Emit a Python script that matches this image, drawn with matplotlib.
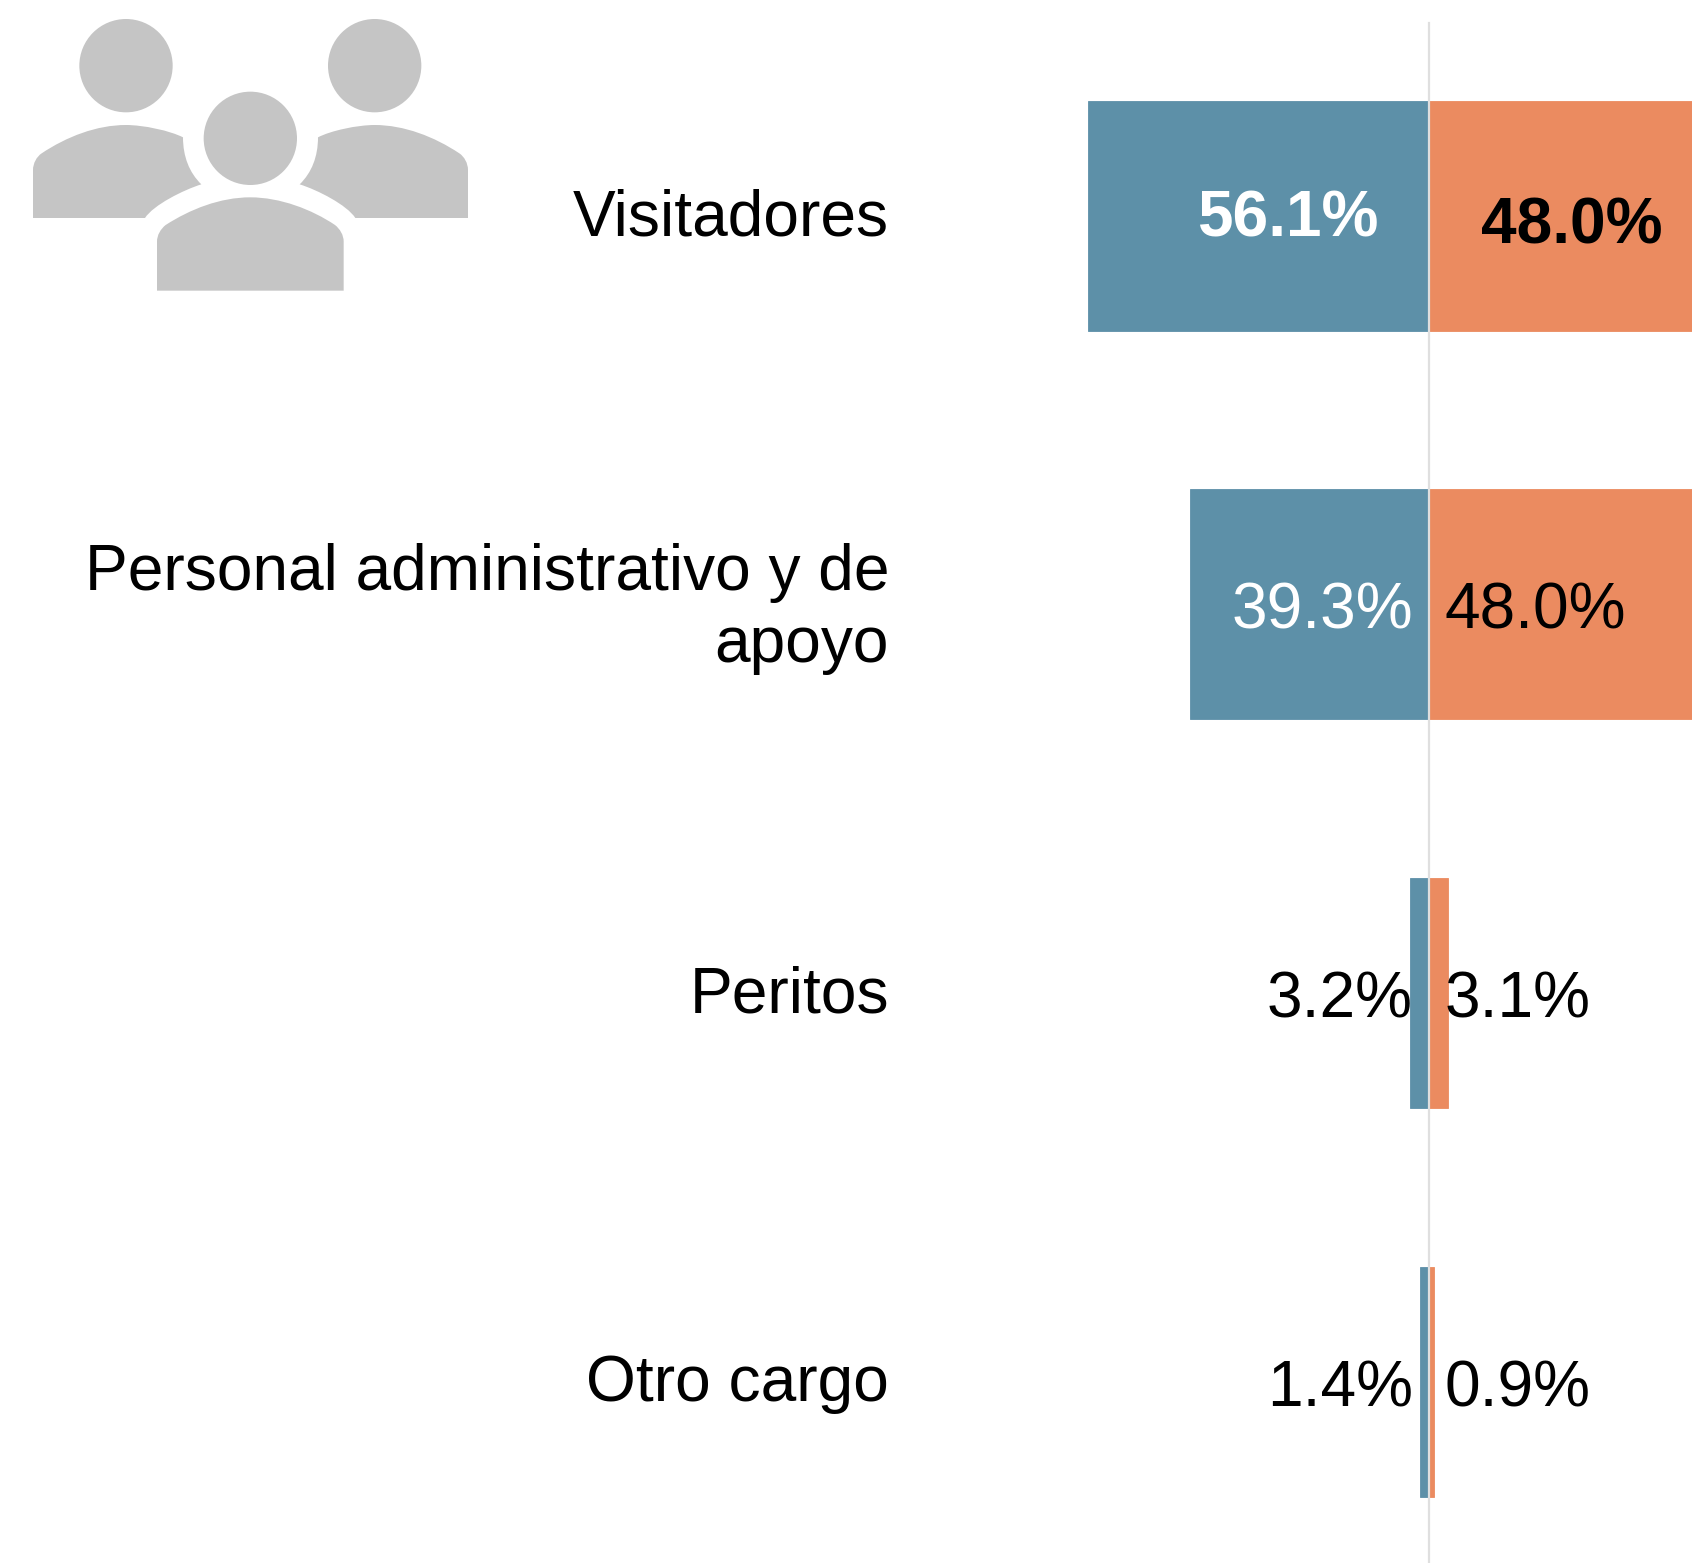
"""Diverging bars of staff by post, with the people icon top left."""

import matplotlib
matplotlib.use("Agg")
import matplotlib.pyplot as plt
from matplotlib.patches import Circle, PathPatch
from matplotlib.path import Path

plt.rcParams["font.family"] = ["Liberation Sans", "DejaVu Sans"]

CATEGORIES = ["Visitadores", "Personal administrativo y de\napoyo", "Peritos", "Otro cargo"]
LEFT_VALUES = [56.1, 39.3, 3.2, 1.4]
RIGHT_VALUES = [48.0, 48.0, 3.1, 0.9]

W, H = 1692, 1563
PX_PER_PCT = 6.08
ZERO_X = 1429
ROW_TOP = 215.5
ROW_STEP = 388.7
BAR_HEIGHT = 230 / ROW_STEP
FONT = 46.1

BLUE = "#5d90a8"
ORANGE = "#eb8b60"
ICON = "#c5c5c5"
LINE = "#dfdfdf"

M, L, C = Path.MOVETO, Path.LINETO, Path.CURVE4

ICON_HEADS = [(378, 197), (1124, 197), (751, 415)]
ICON_HEAD_R = 140
BODY_LEFT = [
    (M, (99, 654)), (L, (99, 510)),
    (C, (99, 490)), (C, (110, 470)), (C, (125, 460)),
    (C, (200, 410)), (C, (290, 375)), (C, (378, 375)),
    (C, (430, 375)), (C, (510, 392)), (C, (549, 412)),
    (C, (549, 470)), (C, (568, 518)), (C, (604, 553)),
    (C, (550, 570)), (C, (460, 615)), (C, (435, 654)),
    (L, (99, 654)),
]
BODY_RIGHT = [
    (M, (1404, 654)), (L, (1404, 510)),
    (C, (1404, 490)), (C, (1393, 470)), (C, (1378, 460)),
    (C, (1303, 410)), (C, (1212, 375)), (C, (1124, 375)),
    (C, (1072, 375)), (C, (992, 392)), (C, (954, 412)),
    (C, (954, 470)), (C, (935, 518)), (C, (899, 553)),
    (C, (953, 570)), (C, (1041, 615)), (C, (1066, 654)),
    (L, (1404, 654)),
]
BODY_MID = [
    (M, (471, 872)), (L, (471, 725)),
    (C, (471, 705)), (C, (482, 687)), (C, (497, 675)),
    (C, (570, 628)), (C, (660, 592)), (C, (751, 592)),
    (C, (840, 592)), (C, (935, 628)), (C, (1005, 675)),
    (C, (1020, 687)), (C, (1031, 705)), (C, (1031, 725)),
    (L, (1031, 872)), (L, (471, 872)),
]


def draw_icon(fig):
    ax = fig.add_axes([0, 0, 1, 1], facecolor="none")
    ax.set_xlim(0, W)
    ax.set_ylim(H, 0)
    ax.axis("off")
    for cx, cy in ICON_HEADS:
        ax.add_patch(Circle((cx / 3, cy / 3), ICON_HEAD_R / 3, fc=ICON, ec="none"))
    for body in [BODY_LEFT, BODY_RIGHT, BODY_MID]:
        codes = [c for c, _ in body]
        verts = [(x / 3, y / 3) for _, (x, y) in body]
        ax.add_patch(PathPatch(Path(verts, codes), fc=ICON, ec="none"))


def main():
    fig = plt.figure(figsize=(W / 100, H / 100), dpi=100, facecolor="white")
    ax = fig.add_axes([0, 0, 1, 1])
    ax.set_xlim(-ZERO_X / PX_PER_PCT, (W - ZERO_X) / PX_PER_PCT)
    ax.set_ylim((H - ROW_TOP) / ROW_STEP, -ROW_TOP / ROW_STEP)
    ax.axis("off")

    rows = range(len(CATEGORIES))
    ax.barh(rows, [-v for v in LEFT_VALUES], height=BAR_HEIGHT, color=BLUE,
            edgecolor=BLUE, lw=0.6)
    ax.barh(rows, RIGHT_VALUES, height=BAR_HEIGHT, color=ORANGE,
            edgecolor=ORANGE, lw=0.6)
    ax.plot([0, 0], [-0.495, (H - ROW_TOP) / ROW_STEP], color=LINE, lw=1.6, zorder=3)

    label_x = (889 - ZERO_X) / PX_PER_PCT
    for i in rows:
        dy = 0.012 if "\n" in CATEGORIES[i] else 0.007
        ax.text(label_x, i + dy, CATEGORIES[i], ha="right", va="center",
                fontsize=FONT, linespacing=1.24, color="black")
        top = i == 0
        weight = "bold" if top else "normal"
        lx = -8.3 if top else -2.65
        rx = 8.55 if top else 2.5
        ldy = 0.010 if top else 0.020
        rdy = 0.029 if top else 0.020
        ax.text(lx, i + ldy, f"{LEFT_VALUES[i]:.1f}%", ha="right", va="center",
                fontsize=FONT, fontweight=weight, zorder=4,
                color="white" if i < 2 else "black")
        ax.text(rx, i + rdy, f"{RIGHT_VALUES[i]:.1f}%", ha="left", va="center",
                fontsize=FONT, fontweight=weight, zorder=4, color="black")

    draw_icon(fig)
    fig.savefig("out.png", dpi=100)
    plt.close(fig)


if __name__ == "__main__":
    main()
